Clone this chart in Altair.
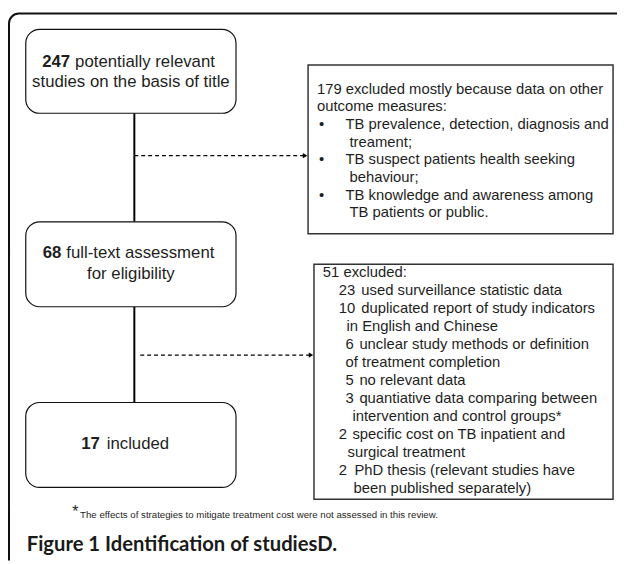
import altair as alt
import pandas as pd

# ---------------- content ----------------
stage_counts = ["247", "68", "17"]
stage_text_line1 = ["potentially relevant", "full-text assessment", "included"]
stage_text_line2 = ["studies on the basis of title", "for eligibility", ""]

excl1_header = ["179 excluded mostly because data on other", "outcome measures:"]
excl1_bullets = [
    ["TB prevalence, detection, diagnosis and", "treament;"],
    ["TB suspect patients health seeking", "behaviour;"],
    ["TB knowledge and awareness among", "TB patients or public."],
]

excl2_header = "51 excluded:"
excl2_counts = ["23", "10", "6", "5", "3", "2", "2"]
excl2_reasons = [
    ["used surveillance statistic data"],
    ["duplicated report of study indicators", "in English and Chinese"],
    ["unclear study methods or definition", "of treatment completion"],
    ["no relevant data"],
    ["quantiative data comparing between", "intervention and control groups*"],
    ["specific cost on TB inpatient and", "surgical treatment"],
    ["PhD thesis (relevant studies have", "been published separately)"],
]

footnote_star = "*"
footnote_text = "The effects of strategies to mitigate treatment cost were not assessed in this review."
caption = "Figure 1 Identification of studiesD."

# ---------------- layout (page pixels) ----------------
W, H = 617, 556
X0, Y0 = 8, 8
left_box = dict(x1=26, x2=239)
left_box_y = [(26, 111), (221, 307), (404, 490)]
line_x = 136
right_boxes = [dict(x1=312, x2=621, y1=62, y2=233), dict(x1=318, x2=621, y1=264, y2=502)]
arrow_y = [154, 356]
arrow_x1 = [136, 142]

num_right = [71, 62, 101]
txt_left = [76, 67, 108]
line1_y = [59, 253, 446]
line2_y = [79, 274, None]
center_x = 132.5

xs = alt.Scale(domain=[X0, X0 + W], nice=False, zero=False)
ys = alt.Scale(domain=[Y0, Y0 + H], nice=False, zero=False, reverse=True)
X = lambda f: alt.X(f, type="quantitative", scale=xs, axis=None)
Y = lambda f: alt.Y(f, type="quantitative", scale=ys, axis=None)

FONT = "Liberation Sans"
INK = "#1e1e1e"

frame_df = pd.DataFrame([dict(x1=9, x2=660, y1=10, y2=620)])
frame = alt.Chart(frame_df).mark_rect(
    fill=None, stroke="#111", strokeWidth=2, cornerRadius=10, clip=True
).encode(x=X("x1"), x2="x2", y=Y("y1"), y2="y2")

lb_df = pd.DataFrame([dict(x1=left_box["x1"], x2=left_box["x2"], y1=a, y2=b) for a, b in left_box_y])
lboxes = alt.Chart(lb_df).mark_rect(
    fill="white", stroke="#111", strokeWidth=1.2, cornerRadius=14
).encode(x=X("x1"), x2="x2", y=Y("y1"), y2="y2")

rb_df = pd.DataFrame(right_boxes)
rboxes = alt.Chart(rb_df).mark_rect(
    fill="white", stroke="#333", strokeWidth=1.5
).encode(x=X("x1"), x2="x2", y=Y("y1"), y2="y2")

v_df = pd.DataFrame([
    dict(x=line_x, y1=left_box_y[0][1], y2=left_box_y[1][0]),
    dict(x=line_x, y1=left_box_y[1][1], y2=left_box_y[2][0]),
])
vlines = alt.Chart(v_df).mark_rule(color="black", strokeWidth=2).encode(
    x=X("x"), y=Y("y1"), y2="y2")

a_df = pd.DataFrame([
    dict(x1=arrow_x1[0], x2=right_boxes[0]["x1"] - 4, y=arrow_y[0]),
    dict(x1=arrow_x1[1], x2=right_boxes[1]["x1"] - 4, y=arrow_y[1]),
])
alines = alt.Chart(a_df).mark_rule(color="black", strokeWidth=1.2, strokeDash=[4, 3]).encode(
    x=X("x1"), x2="x2", y=Y("y"))
h_df = pd.DataFrame([
    dict(x=right_boxes[0]["x1"] - 3, y=arrow_y[0]),
    dict(x=right_boxes[1]["x1"] - 3, y=arrow_y[1]),
])
heads = alt.Chart(h_df).mark_point(shape="triangle-right", filled=True, color="black",
                                   size=28, opacity=1).encode(x=X("x"), y=Y("y"))

rows_num, rows_t1, rows_t2 = [], [], []
for i in range(3):
    rows_num.append(dict(x=num_right[i], y=line1_y[i], t=stage_counts[i]))
    rows_t1.append(dict(x=txt_left[i], y=line1_y[i], t=stage_text_line1[i]))
    if stage_text_line2[i]:
        rows_t2.append(dict(x=center_x, y=line2_y[i], t=stage_text_line2[i]))
tnum = alt.Chart(pd.DataFrame(rows_num)).mark_text(
    align="right", baseline="middle", font=FONT, fontSize=17, fontWeight="bold", color=INK
).encode(x=X("x"), y=Y("y"), text="t:N")
tt1 = alt.Chart(pd.DataFrame(rows_t1)).mark_text(
    align="left", baseline="middle", font=FONT, fontSize=17, color=INK
).encode(x=X("x"), y=Y("y"), text="t:N")
tt2 = alt.Chart(pd.DataFrame(rows_t2)).mark_text(
    align="center", baseline="middle", font=FONT, fontSize=17, color=INK
).encode(x=X("x"), y=Y("y"), text="t:N")

r1 = []
y = 86
step1 = 17.9
for s in excl1_header:
    r1.append(dict(x=321, y=y, t=s)); y += step1
bul = []
for b in excl1_bullets:
    bul.append(dict(x=323, y=y, t="•"))
    r1.append(dict(x=350, y=y, t=b[0])); y += step1
    r1.append(dict(x=354, y=y, t=b[1])); y += step1

r2 = []
y = 272
step2 = 18.2
r2.append(dict(x=327, y=y, t=excl2_header)); y += step2
num_x = [343, 343, 350, 350, 350, 343, 343]
first_x = [366, 366, 364, 364, 364, 357, 359]
cont_x = [None, 351, 350, None, 357, 352, 358]
n2 = []
for i, c in enumerate(excl2_counts):
    n2.append(dict(x=num_x[i], y=y, t=c))
    r2.append(dict(x=first_x[i], y=y, t=excl2_reasons[i][0])); y += step2
    if len(excl2_reasons[i]) > 1:
        r2.append(dict(x=cont_x[i], y=y, t=excl2_reasons[i][1])); y += step2

rtext = alt.Chart(pd.DataFrame(r1 + r2 + n2)).mark_text(
    align="left", baseline="middle", font=FONT, fontSize=15, color=INK
).encode(x=X("x"), y=Y("y"), text="t:N")
bullets = alt.Chart(pd.DataFrame(bul)).mark_text(
    align="left", baseline="middle", font=FONT, fontSize=15, color=INK
).encode(x=X("x"), y=Y("y"), text="t:N")

fs = alt.Chart(pd.DataFrame([dict(x=73, y=515, t=footnote_star)])).mark_text(
    align="left", baseline="middle", font=FONT, fontSize=16, color=INK
).encode(x=X("x"), y=Y("y"), text="t:N")
ft = alt.Chart(pd.DataFrame([dict(x=81, y=518, t=footnote_text)])).mark_text(
    align="left", baseline="middle", font=FONT, fontSize=9.8, color=INK
).encode(x=X("x"), y=Y("y"), text="t:N")
cap = alt.Chart(pd.DataFrame([dict(x=27, y=548, t=caption)])).mark_text(
    align="left", baseline="middle", font="Lato", fontSize=20.5, fontWeight="bold", color="#1a1a1a"
).encode(x=X("x"), y=Y("y"), text="t:N")

chart = alt.layer(
    frame, vlines, alines, heads, lboxes, rboxes, tnum, tt1, tt2, rtext, bullets, fs, ft, cap
).properties(width=W, height=H, padding=0, background="white").configure_view(stroke=None)

chart.save("out.html", embed_options={"renderer": "svg", "actions": False})
